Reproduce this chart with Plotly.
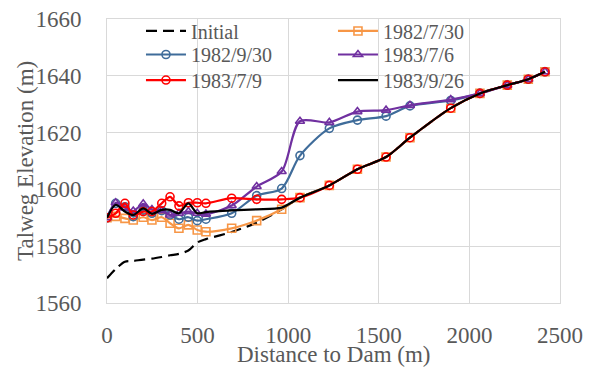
import plotly.graph_objects as go

dist_left = [0, 48, 99, 145, 200, 248, 302, 348, 397, 449, 498, 546, 688, 826, 964]
dist_tail = [1065, 1227, 1382, 1540, 1672, 1897, 2058, 2209, 2325, 2417]
dist = dist_left + dist_tail

tail = [1597.1, 1601.4, 1607.1, 1611.4, 1618.2, 1628.6, 1633.8, 1636.7, 1638.8, 1641.4]

initial = [1568.7, 1572.0, 1574.5, 1574.8, 1575.3, 1575.6, 1576.2, 1576.8, 1577.3, 1578.5,
           1581.3, 1582.5, 1585.0, 1588.3, 1593.0] + tail
s19820730 = [1590.0, 1590.5, 1589.8, 1589.2, 1590.2, 1589.2, 1590.2, 1588.1, 1586.3, 1587.5,
             1585.7, 1585.1, 1586.3, 1589.0, 1593.0] + tail
s19820930 = [1590.0, 1595.1, 1593.9, 1590.4, 1592.7, 1591.6, 1592.5, 1591.0, 1589.5, 1590.2,
             1589.0, 1589.5, 1591.6, 1597.8, 1600.3,
             1611.9, 1621.5, 1624.4, 1625.8, 1629.4, 1631.3, 1633.8, 1636.7, 1638.8, 1641.4]
s19830706 = [1590.0, 1595.3, 1593.5, 1592.4, 1594.9, 1592.9, 1592.5, 1591.0, 1591.6, 1592.2,
             1591.6, 1591.3, 1594.3, 1601.0, 1606.3,
             1624.0, 1623.6, 1627.4, 1627.9, 1629.6, 1631.6, 1633.8, 1636.7, 1638.8, 1641.4]
s19830709 = [1590.0, 1591.6, 1595.1, 1591.0, 1592.2, 1592.2, 1595.1, 1597.4, 1594.2, 1595.3,
             1595.3, 1595.1, 1596.9, 1596.5, 1596.5] + tail
s19830926 = [1590.0, 1594.6, 1592.2, 1591.0, 1593.3, 1591.4, 1592.8, 1592.8, 1591.6, 1595.1,
             1591.6, 1592.0, 1592.6, 1593.0, 1593.6] + tail

x_ticks = [0, 500, 1000, 1500, 2000, 2500]
y_ticks = [1560, 1580, 1600, 1620, 1640, 1660]
x_title = "Distance to Dam (m)"
y_title = "Talweg Elevation (m)"

FONT = "Liberation Serif"
GRAY = "#595959"
GRID = "#d9d9d9"

series = [
    ("Initial", initial, "#000000", None, "11px,6px", "legend"),
    ("1982/7/30", s19820730, "#F79646", "square-open", "solid", "legend"),
    ("1982/9/30", s19820930, "#3F6C9A", "circle-open", "solid", "legend2"),
    ("1983/7/6", s19830706, "#7030A0", "triangle-up-open", "solid", "legend2"),
    ("1983/7/9", s19830709, "#FF0000", "circle-open", "solid", "legend3"),
    ("1983/9/26", s19830926, "#000000", None, "solid", "legend3"),
]

fig = go.Figure()
for name, ys, color, sym, dash, leg in series:
    mode = "lines+markers" if sym else "lines"
    kw = {}
    if sym:
        kw["marker"] = dict(symbol=sym, size=8, color=color, line=dict(width=1.6, color=color))
    fig.add_trace(go.Scatter(
        x=dist, y=ys, name=name, mode=mode, legend=leg,
        line=dict(color=color, width=2.2, dash=dash, shape="spline", smoothing=0.8),
        **kw))

def leg(yc):
    return dict(
        orientation="h", x=0.075, y=yc, xanchor="left", yanchor="middle",
        bgcolor="rgba(0,0,0,0)", font=dict(family=FONT, size=20, color=GRAY),
        entrywidth=137, entrywidthmode="pixels", itemwidth=40,
    )

fig.update_layout(
    width=595, height=370,
    margin=dict(l=107, r=35, t=19, b=67, autoexpand=False),
    paper_bgcolor="white", plot_bgcolor="white",
    font=dict(family=FONT, size=23, color=GRAY),
    showlegend=True,
    legend=leg(0.958),
    legend2=leg(0.875),
    legend3=leg(0.785),
    xaxis=dict(
        range=[0, 2500], tickvals=x_ticks, ticktext=[str(v) for v in x_ticks],
        showgrid=True, gridcolor=GRID, gridwidth=1,
        showline=True, linecolor=GRID, linewidth=1, mirror=True,
        zeroline=False, ticks="", ticklabelstandoff=11, automargin=False,
        tickfont=dict(family=FONT, size=23, color=GRAY),
    ),
    yaxis=dict(
        range=[1560, 1660], tickvals=y_ticks, ticktext=[str(v) for v in y_ticks],
        showgrid=True, gridcolor=GRID, gridwidth=1,
        showline=True, linecolor=GRID, linewidth=1, mirror=True,
        zeroline=False, ticks="", ticklabelstandoff=20, automargin=False,
        tickfont=dict(family=FONT, size=23, color=GRAY),
    ),
    annotations=[
        dict(text=x_title, xref="paper", yref="paper", x=0.5, y=-0.232,
             xanchor="center", yanchor="bottom", showarrow=False,
             font=dict(family=FONT, size=23, color=GRAY)),
        dict(text=y_title, xref="paper", yref="paper", x=-0.181, y=0.5,
             xanchor="center", yanchor="middle", showarrow=False, textangle=-90,
             font=dict(family=FONT, size=23, color=GRAY)),
    ],
)

fig.write_html("out.html")
